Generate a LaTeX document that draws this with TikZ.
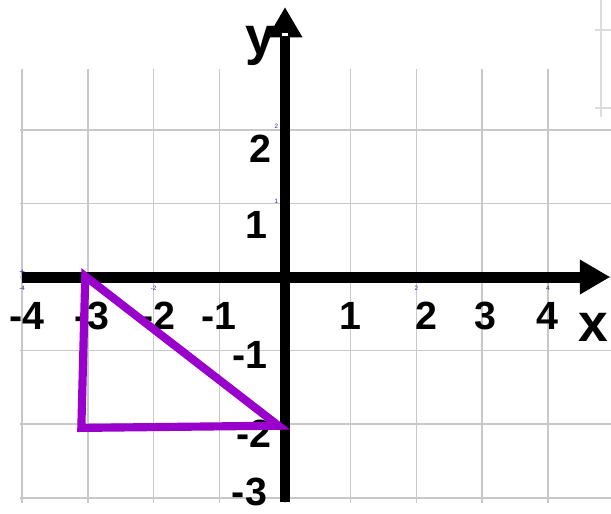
\documentclass[tikz,border=0pt]{standalone}
\usepackage{fontspec}
\setsansfont{Liberation Sans}
\usetikzlibrary{arrows.meta}
\definecolor{gridgray}{HTML}{C8C8C8}
\definecolor{faint}{HTML}{DCDCDC}
\definecolor{shape}{HTML}{9900CC}
\definecolor{ticknum}{HTML}{2A2AA8}
\tikzset{
  gridline/.style={draw=gridgray, line width=1.1pt},
  axis/.style={draw=black, line width=7.8pt,
               -{Triangle[length=0.76cm, width=0.82cm]}},
  tri/.style={draw=shape, line width=5.8pt, line join=miter},
  num/.style={font=\sffamily\bfseries\fontsize{28}{30}\selectfont,
              inner sep=0pt, anchor=base},
  numy/.style={num, anchor=base east},
  axlabel/.style={font=\sffamily\bfseries\fontsize{38}{40}\selectfont,
                  inner sep=0pt, anchor=base},
  tiny/.style={font=\sffamily\fontsize{4.5}{5}\selectfont, text=ticknum,
               inner sep=0pt},
}

\begin{document}
\begin{tikzpicture}[x=1.6425cm, y=1.84cm]
\useasboundingbox (-4.338,-3.207) rectangle (4.962,3.764);

% grid
\foreach \i in {-4,...,4}
  \draw[gridline] (\i,2.83) -- (\i,-3.07);
\foreach \j in {-3,...,2}
  \draw[gridline] (-4.03,\j) -- (4.962,\j);

% stray ruler, top right
\draw[faint, line width=1.1pt] (4.81,3.764) -- (4.81,2.17);
\draw[faint, line width=0.8pt] (4.72,3.356) -- (4.962,3.356);
\draw[faint, line width=0.8pt] (4.72,2.296) -- (4.962,2.296);

% axes
\coordinate (xl) at (-4,0);
\coordinate (xr) at (4.95,0);
\coordinate (yb) at (0,-3.06);
\coordinate (yt) at (0,3.668);
\draw[axis] (xl) -- (xr);
\draw[axis] (yb) -- (yt);
\draw[white, line width=2pt] (-0.05,3.29) -- (0.05,3.29);

% small blue marks
\node[tiny, font=\sffamily\fontsize{7}{7}\selectfont] (plus) at (-4.0,0.06) {+};
\foreach \v in {-4,-2,2,4}
  \node[tiny] (s\v) at (\v,-0.15) {\v};
\node[tiny] (sy2) at (-0.13,2.05) {2};
\node[tiny] (sy1) at (-0.13,1.03) {1};

% axis labels
\node[axlabel] (ylab) at (-0.37,3.02) {y};
\node[axlabel] (xlab) at (4.70,-0.87) {x};

% numbers on x
\node[num] (nxm4) at (-3.93,-0.707) {-4};
\node[num] (nxm3) at (-2.94,-0.707) {-3};
\node[num] (nxm2) at (-1.93,-0.707) {-2};
\node[num] (nxm1) at (-1.00,-0.707) {-1};
\node[num] (nx1) at (0.99,-0.707) {1};
\node[num] (nx2) at (2.15,-0.707) {2};
\node[num] (nx3) at (3.05,-0.707) {3};
\node[num] (nx4) at (3.99,-0.707) {4};

% numbers on y
\node[numy] (ny2) at (-0.20,1.55) {2};
\node[numy] (ny1) at (-0.26,0.53) {1};
\node[numy] (nym1) at (-0.26,-1.24) {-1};
\node[numy] (nym2) at (-0.20,-2.31) {-2};
\node[numy] (nym3) at (-0.27,-3.10) {-3};

% triangle
\coordinate (A) at (-3.04,0.01);
\coordinate (B) at (-3.10,-2.05);
\coordinate (C) at (-0.10,-2.02);
\draw[tri] (A) -- (B) -- (C) -- cycle;

\end{tikzpicture}
\end{document}
